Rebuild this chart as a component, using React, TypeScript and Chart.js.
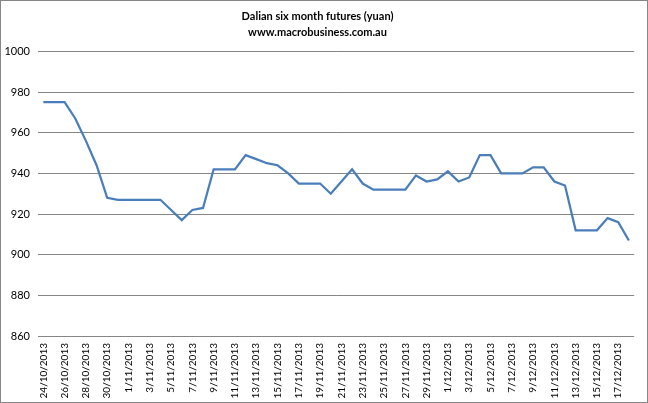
import React, { useEffect, useRef } from "react";
import { Chart, registerables } from "chart.js";

Chart.register(...registerables);

const dates: string[] = [
  "24/10/2013", "25/10/2013", "26/10/2013", "27/10/2013", "28/10/2013", "29/10/2013", "30/10/2013", "31/10/2013",
  "1/11/2013", "2/11/2013", "3/11/2013", "4/11/2013", "5/11/2013", "6/11/2013", "7/11/2013", "8/11/2013",
  "9/11/2013", "10/11/2013", "11/11/2013", "12/11/2013", "13/11/2013", "14/11/2013", "15/11/2013", "16/11/2013",
  "17/11/2013", "18/11/2013", "19/11/2013", "20/11/2013", "21/11/2013", "22/11/2013", "23/11/2013", "24/11/2013",
  "25/11/2013", "26/11/2013", "27/11/2013", "28/11/2013", "29/11/2013", "30/11/2013",
  "1/12/2013", "2/12/2013", "3/12/2013", "4/12/2013", "5/12/2013", "6/12/2013", "7/12/2013", "8/12/2013",
  "9/12/2013", "10/12/2013", "11/12/2013", "12/12/2013", "13/12/2013", "14/12/2013", "15/12/2013", "16/12/2013",
  "17/12/2013", "18/12/2013",
];

const futures: number[] = [
  975, 975, 975, 967, 956, 944, 928, 927,
  927, 927, 927, 927, 922, 917, 922, 923,
  942, 942, 942, 949, 947, 945, 944, 940,
  935, 935, 935, 930, 936, 942, 935, 932,
  932, 932, 932, 939, 936, 937,
  941, 936, 938, 949, 949, 940, 940, 940,
  943, 943, 936, 934, 912, 912, 912, 918,
  916, 907,
];

const titleText = "Dalian six month futures (yuan)";
const subtitleText = "www.macrobusiness.com.au";
const yMin = 860;
const yMax = 1000;
const yStep = 20;

export default function App() {
  const ref = useRef<HTMLCanvasElement | null>(null);

  useEffect(() => {
    if (!ref.current) return;
    const font = "Lato, 'Open Sans', sans-serif";
    const chart = new Chart(ref.current, {
      type: "line",
      data: {
        labels: dates,
        datasets: [
          {
            data: futures,
            borderColor: "#4a7ebb",
            borderWidth: 2.25,
            pointRadius: 0,
            tension: 0,
            fill: false,
          },
        ],
      },
      options: {
        animation: false,
        responsive: false,
        maintainAspectRatio: false,
        layout: { padding: { top: 0, left: 0, right: 13, bottom: 0 } },
        plugins: {
          legend: { display: false },
          tooltip: { enabled: false },
          title: {
            display: true,
            text: titleText,
            color: "#000",
            font: { family: font, size: 11, weight: "bold", lineHeight: 1.2 },
            padding: { top: 10, bottom: 3 },
          },
          subtitle: {
            display: true,
            text: subtitleText,
            color: "#000",
            font: { family: font, size: 11, weight: "bold", lineHeight: 1.2 },
            padding: { top: 0, bottom: 12 },
          },
        },
        scales: {
          x: {
            type: "category",
            offset: true,
            grid: { display: false, drawTicks: false },
            border: { display: false },
            afterFit: (s: any) => {
              s.height = 67;
            },
            ticks: {
              autoSkip: false,
              minRotation: 90,
              maxRotation: 90,
              padding: 7,
              color: "#000",
              font: { family: font, size: 10 },
              callback: (_v: any, i: number) => (i % 2 === 0 ? dates[i] : ""),
            },
          },
          y: {
            min: yMin,
            max: yMax,
            grid: { color: "#868686", lineWidth: 1, drawTicks: false },
            border: { display: false },
            afterFit: (s: any) => {
              s.width = 38;
            },
            ticks: {
              stepSize: yStep,
              padding: 8,
              color: "#000",
              font: { family: font, size: 11 },
              callback: (v: any) => String(v),
            },
          },
        },
      },
    });
    return () => chart.destroy();
  }, []);

  return (
    <div style={{ position: "fixed", left: 0, top: 0, width: 648, height: 403, background: "#fff" }}>
      <canvas ref={ref} width={648} height={403} style={{ display: "block" }} />
      <div
        style={{
          position: "absolute",
          left: 0,
          top: 0,
          width: 648,
          height: 403,
          boxSizing: "border-box",
          border: "1px solid #868686",
          pointerEvents: "none",
        }}
      />
    </div>
  );
}
